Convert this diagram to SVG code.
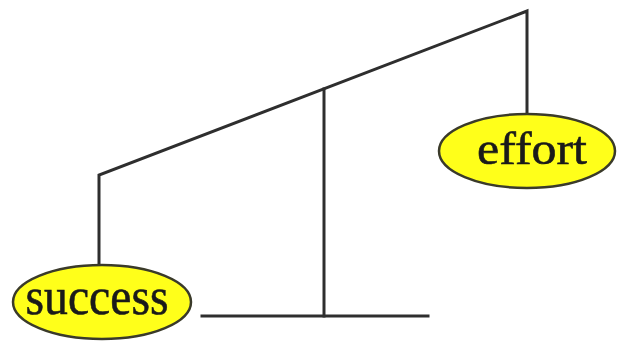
<svg xmlns="http://www.w3.org/2000/svg" width="618" height="346" viewBox="0 0 618 346">
<style>
.ln{stroke:#2e2e2e;stroke-width:3;fill:none;stroke-linecap:square}
.nd{fill:#ffff1a;stroke:#3a3a2a;stroke-width:2.5}
.tx{font-family:"Liberation Serif",serif;fill:#1a1a1a;stroke:#1a1a1a;stroke-width:0.6;text-anchor:middle}
</style>
<rect width="618" height="346" fill="#ffffff"/>
<g id="connectors">
<polyline class="ln" points="99,265 99,175 527,11 527,113"/>
<line class="ln" x1="324" y1="89" x2="324" y2="316"/>
<line class="ln" x1="202" y1="316" x2="428" y2="316"/>
</g>
<g id="success">
<ellipse class="nd" cx="102" cy="302" rx="89" ry="37"/>
<text class="tx" x="97" y="314" font-size="53" textLength="143" lengthAdjust="spacingAndGlyphs">success</text>
</g>
<g id="effort">
<ellipse class="nd" cx="527" cy="151" rx="88" ry="37"/>
<text class="tx" x="532" y="164" font-size="47" textLength="110" lengthAdjust="spacingAndGlyphs">effort</text>
</g>
</svg>
